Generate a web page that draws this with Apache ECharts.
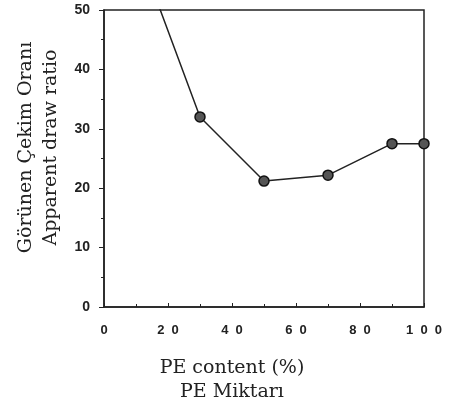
<!DOCTYPE html>
<html><head><meta charset="utf-8">
<script src="https://cdn.jsdelivr.net/npm/echarts@6/dist/echarts.min.js"></script>
<style>html,body{margin:0;padding:0;background:#fff}#c{width:456px;height:409px}</style>
</head><body><div id="c"></div>
<script>
const peContent = [10, 30, 50, 70, 90, 100];
const drawRatio = [61, 32, 21.2, 22.2, 27.5, 27.5];
const xTickLabels = {0:'0',20:'2  0',40:'4  0',60:'6  0',80:'8  0',100:'1  0  0'};
const xTitle = 'PE content (%)\nPE Miktarı';
const yTitle = 'Görünen Çekim Oranı\nApparent draw ratio';

const chart = echarts.init(document.getElementById('c'));
const serif = '"DejaVu Serif","Liberation Serif",serif';
const sans = '"Liberation Sans",Arial,sans-serif';
chart.setOption({
  animation:false,
  grid:{left:104,right:32,top:10,bottom:101,show:true,borderColor:'#222',borderWidth:1.5},
  xAxis:{type:'value',min:0,max:100,interval:20,
    name:xTitle,nameLocation:'middle',nameGap:49,
    nameTextStyle:{fontFamily:serif,fontSize:19,color:'#222',lineHeight:24,padding:[0,64,0,0]},
    axisLine:{lineStyle:{color:'#222',width:1.5}},
    axisTick:{inside:true,length:4,lineStyle:{color:'#222'}},
    minorTick:{show:true,splitNumber:2,length:3,lineStyle:{color:'#222'}},
    splitLine:{show:false},
    axisLabel:{formatter:v=>xTickLabels[v]||'',fontFamily:sans,fontWeight:'bold',fontSize:13,color:'#222',margin:17}},
  yAxis:{type:'value',min:0,max:50,interval:10,
    name:yTitle,nameLocation:'middle',nameGap:40,nameRotate:90,
    nameTextStyle:{fontFamily:serif,fontSize:19,color:'#222',lineHeight:25,padding:[0,0,0,22]},
    axisLine:{lineStyle:{color:'#222',width:1.5}},
    axisTick:{length:5,lineStyle:{color:'#222'}},
    minorTick:{show:true,splitNumber:2,length:3,lineStyle:{color:'#222'}},
    splitLine:{show:false},
    axisLabel:{fontFamily:sans,fontWeight:'bold',fontSize:14,color:'#222',margin:14}},
  series:[{type:'line',data:peContent.map((x,i)=>[x,drawRatio[i]]),clip:true,
    symbol:'circle',symbolSize:10,
    itemStyle:{color:'#555',borderColor:'#111',borderWidth:1.5},
    lineStyle:{color:'#222',width:1.5}}]
});
</script></body></html>
